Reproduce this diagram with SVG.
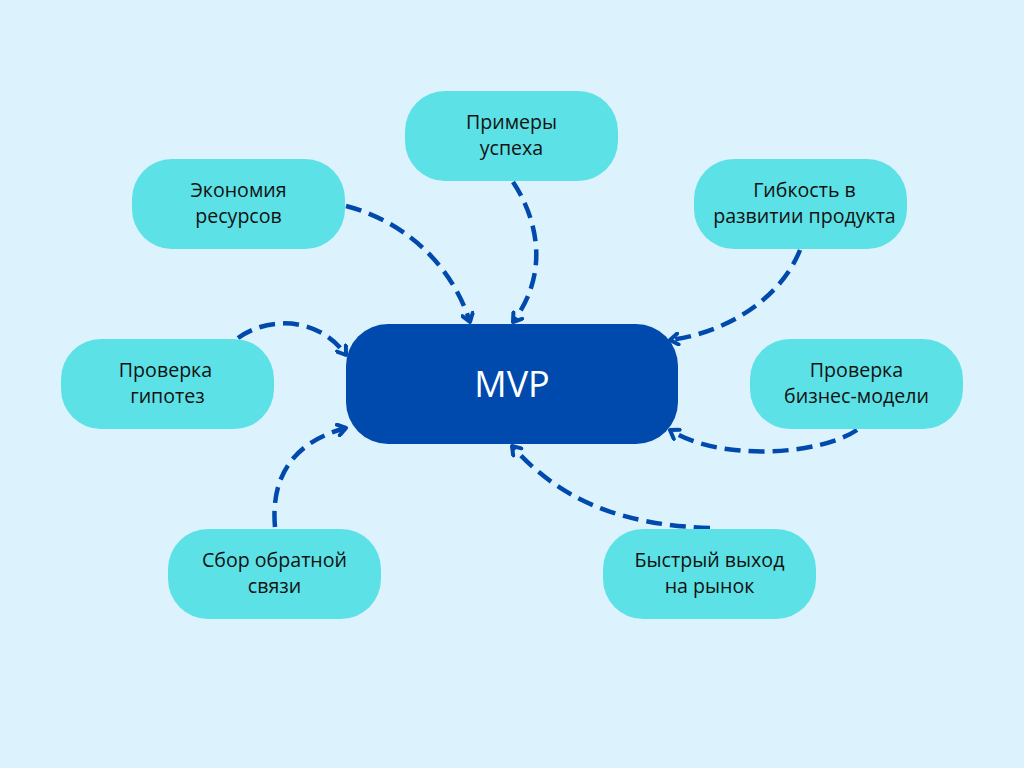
<svg xmlns="http://www.w3.org/2000/svg" width="1024" height="768" viewBox="0 0 1024 768">
<defs>
<style>
.node{fill:#5ce1e6}
.lbl{font-family:"Open Sans","Noto Sans",sans-serif;font-size:19.6px;fill:#111;text-anchor:middle}
.conn{fill:none;stroke:#004aad;stroke-width:4.5;stroke-dasharray:16 8;marker-end:url(#ah)}
</style>
<marker id="ah" markerWidth="14" markerHeight="14" refX="10" refY="7" orient="auto" markerUnits="userSpaceOnUse" viewBox="0 0 14 14">
<path d="M2 1.5 L10 7 L2 12.5" fill="none" stroke="#004aad" stroke-width="4" stroke-linecap="round" stroke-linejoin="round"/>
</marker>
</defs>
<rect width="1024" height="768" fill="#dcf2fd"/>
<g id="connectors">
<path class="conn" d="M346 206 C400 220 450 260 470 322"/>
<path class="conn" d="M513 182 C535 215 552 270 513 322"/>
<path class="conn" d="M800 250 C780 300 725 333 670 340"/>
<path class="conn" d="M238 338 C270 315 320 318 346 355"/>
<path class="conn" d="M275 527 C270 470 300 440 346 428"/>
<path class="conn" d="M857 430 C820 455 720 462 670 430"/>
<path class="conn" d="M710 528 C620 525 560 500 512 446"/>
</g>
<g id="mvp">
<rect x="346" y="324" width="332" height="120" rx="42" fill="#004aad"/>
<text x="512" y="397" font-family="Open Sans, Noto Sans, sans-serif" font-size="36" fill="#fff" text-anchor="middle">MVP</text>
</g>
<g id="ekonomiya">
<rect class="node" x="132" y="159" width="213" height="90" rx="40"/>
<text class="lbl" x="238.5" y="197">Экономия</text>
<text class="lbl" x="238.5" y="223">ресурсов</text>
</g>
<g id="primery">
<rect class="node" x="405" y="91" width="213" height="90" rx="40"/>
<text class="lbl" x="511.5" y="129">Примеры</text>
<text class="lbl" x="511.5" y="155">успеха</text>
</g>
<g id="gibkost">
<rect class="node" x="694" y="159" width="213" height="90" rx="40"/>
<text class="lbl" x="804.5" y="197">Гибкость в</text>
<text class="lbl" x="804.5" y="223">развитии продукта</text>
</g>
<g id="gipotez">
<rect class="node" x="61" y="339" width="213" height="90" rx="40"/>
<text class="lbl" x="165.5" y="377">Проверка</text>
<text class="lbl" x="167.5" y="403">гипотез</text>
</g>
<g id="biznes">
<rect class="node" x="750" y="339" width="213" height="90" rx="40"/>
<text class="lbl" x="856.5" y="377">Проверка</text>
<text class="lbl" x="856.5" y="403">бизнес-модели</text>
</g>
<g id="sbor">
<rect class="node" x="168" y="529" width="213" height="90" rx="40"/>
<text class="lbl" x="274.5" y="567">Сбор обратной</text>
<text class="lbl" x="274.5" y="593">связи</text>
</g>
<g id="bystryi">
<rect class="node" x="603" y="529" width="213" height="90" rx="40"/>
<text class="lbl" x="709.5" y="567">Быстрый выход</text>
<text class="lbl" x="709.5" y="593">на рынок</text>
</g>
</svg>
